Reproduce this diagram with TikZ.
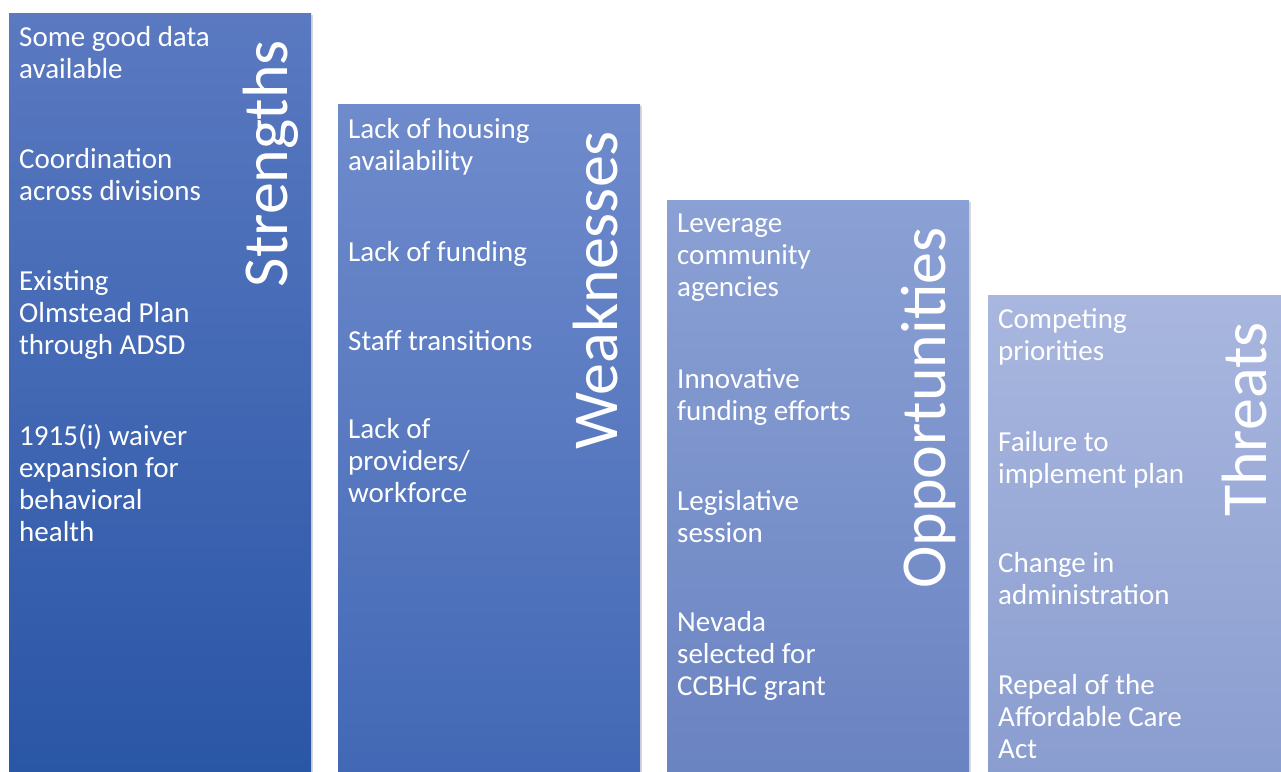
\documentclass[tikz,border=0pt]{standalone}
\usepackage{fontspec}
\setmainfont{Carlito}
\usetikzlibrary{shadows}

\definecolor{strtop}{HTML}{5A79C1}
\definecolor{strbot}{HTML}{2A56A6}
\definecolor{weatop}{HTML}{6F8BCC}
\definecolor{weabot}{HTML}{4268B5}
\definecolor{opptop}{HTML}{8BA1D5}
\definecolor{oppbot}{HTML}{6A83C1}
\definecolor{thrtop}{HTML}{A9B7DF}
\definecolor{thrbot}{HTML}{8A9DCF}

\begin{document}
\begin{tikzpicture}[x=1pt,y=-1pt,
	column/.style={shape=rectangle,anchor=north west,inner sep=0pt,minimum width=302pt,
		drop shadow={opacity=0.3,shadow xshift=1.5pt,shadow yshift=-1.5pt}},
	item/.style={anchor=north west,align=left,inner sep=0pt,text=white,
		font=\fontsize{29}{32}\selectfont,execute at begin node=\strut},
	heading/.style={rotate=90,anchor=base east,inner sep=0pt,text=white,
		font=\fontsize{64}{64}\selectfont}]
	\useasboundingbox (0,0) rectangle (1281,771);

	\node[column,top color=strtop,bottom color=strbot,minimum height=762pt] (str) at (9, 13)   {};
	\node[column,top color=weatop,bottom color=weabot,minimum height=671pt] (wea) at (338, 104) {};
	\node[column,top color=opptop,bottom color=oppbot,minimum height=575pt] (opp) at (667, 200) {};
	\node[column,top color=thrtop,bottom color=thrbot,minimum height=480pt] (thr) at (988, 295) {};

	\node[heading] (strh) at (287, 40)   {Strengths};
	\node[heading] (weah) at (617, 131)  {Weaknesses};
	\node[heading] (opph) at (945, 227)  {Opportunities};
	\node[heading] (thrh) at (1266, 322) {Threats};

	\node[item] (s1) at (19, 26)  {Some good data\\available};
	\node[item] (s2) at (19, 148) {Coordination\\across divisions};
	\node[item] (s3) at (19, 270) {Existing\\Olmstead Plan\\through ADSD};
	\node[item] (s4) at (19, 424) {1915(i) waiver\\expansion for\\behavioral\\health};

	\node[item] (w1) at (348, 118) {Lack of housing\\availability};
	\node[item] (w2) at (348, 239) {Lack of funding};
	\node[item] (w3) at (348, 328) {Staff transitions};
	\node[item] (w4) at (348, 418) {Lack of\\providers/\\workforce};

	\node[item] (o1) at (677, 214) {Leverage\\community\\agencies};
	\node[item] (o2) at (677, 368) {Innovative\\funding efforts};
	\node[item] (o3) at (677, 490) {Legislative\\session};
	\node[item] (o4) at (677, 611) {Nevada\\selected for\\CCBHC grant};

	\node[item] (t1) at (998, 308) {Competing\\priorities};
	\node[item] (t2) at (998, 431) {Failure to\\implement plan};
	\node[item] (t3) at (998, 552) {Change in\\administration};
	\node[item] (t4) at (998, 674) {Repeal of the\\Affordable Care\\Act};
\end{tikzpicture}
\end{document}
